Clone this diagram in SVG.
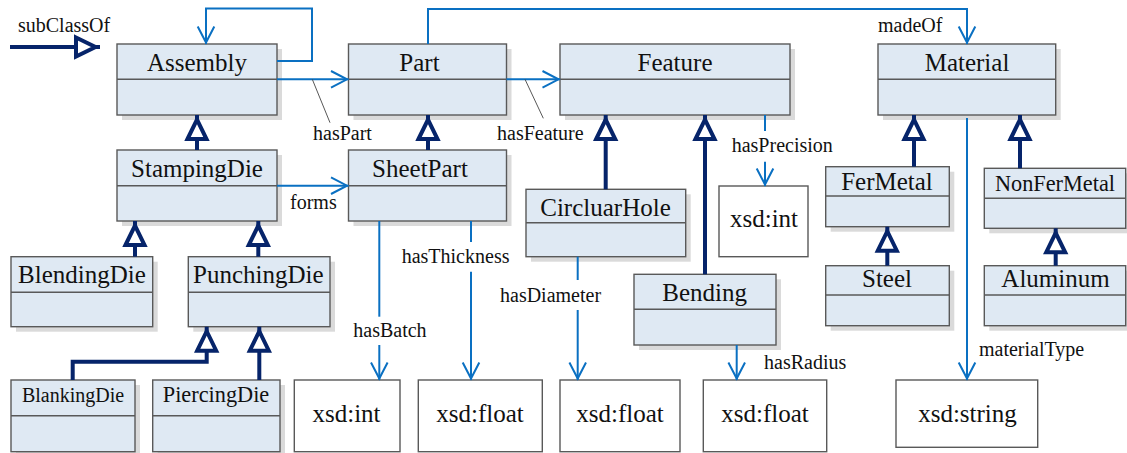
<svg xmlns="http://www.w3.org/2000/svg" width="1127" height="453" viewBox="0 0 1127 453">
  <defs>
    <style>
      .shadow { fill: #dadada; stroke: none; }
      .cls { fill: #dfe9f3; stroke: #595959; stroke-width: 1.4; }
      .div { stroke: #595959; stroke-width: 1.4; }
      .dt { fill: #ffffff; stroke: #595959; stroke-width: 1.4; }
      .name { font-family: "Liberation Serif", "Times New Roman", serif; font-size: 25px; fill: #111; text-anchor: middle; }
      .lbl { font-family: "Liberation Serif", "Times New Roman", serif; font-size: 20px; fill: #111; }
      .assoc { fill: none; stroke: #0a70c2; stroke-width: 2; }
      .gen { fill: none; stroke: #06246a; stroke-width: 4; }
      .leader { fill: none; stroke: #444; stroke-width: 0.9; }
    </style>
    <!-- hollow triangle for subclass links -->
    <marker id="tri" viewBox="-3 -13 30 26" markerWidth="30" markerHeight="26" refX="24" refY="0" orient="auto" markerUnits="userSpaceOnUse">
      <path d="M0,-9.5 L19.5,0 L0,9.5 Z" fill="#ffffff" stroke="#06246a" stroke-width="4" stroke-linejoin="miter"/>
    </marker>
    <!-- open arrowhead for properties -->
    <marker id="open" viewBox="-19 -11 22 22" markerWidth="22" markerHeight="22" refX="1.5" refY="0" orient="auto" markerUnits="userSpaceOnUse">
      <path d="M-16,-8.3 L0,0 L-16,8.3" fill="none" stroke="#0a70c2" stroke-width="2"/>
    </marker>
  </defs>

  <!-- legend -->
  <g id="legend">
    <text class="lbl" x="18" y="32">subClassOf</text>
    <path class="gen" d="M10,47 L100,47" marker-end="url(#tri)"/>
  </g>

  <!-- class nodes -->
  <g id="Assembly">
    <rect class="shadow" x="122" y="49" width="160" height="71"/>
    <rect class="cls" x="117" y="44" width="160" height="71"/>
    <line class="div" x1="117" y1="79.3" x2="277" y2="79.3"/>
    <text class="name" x="197" y="71">Assembly</text>
  </g>
  <g id="Part">
    <rect class="shadow" x="353.5" y="49" width="158" height="71"/>
    <rect class="cls" x="348.5" y="44" width="158" height="71"/>
    <line class="div" x1="348.5" y1="79.3" x2="506.5" y2="79.3"/>
    <text class="name" x="419.5" y="71">Part</text>
  </g>
  <g id="Feature">
    <rect class="shadow" x="565" y="49" width="230" height="71"/>
    <rect class="cls" x="560" y="44" width="230" height="71"/>
    <line class="div" x1="560" y1="79.3" x2="790" y2="79.3"/>
    <text class="name" x="675" y="71">Feature</text>
  </g>
  <g id="Material">
    <rect class="shadow" x="883" y="49" width="177.7" height="71"/>
    <rect class="cls" x="878" y="44" width="177.7" height="71"/>
    <line class="div" x1="878" y1="79.3" x2="1055.7" y2="79.3"/>
    <text class="name" x="967" y="71">Material</text>
  </g>
  <g id="StampingDie">
    <rect class="shadow" x="122" y="155" width="160" height="71"/>
    <rect class="cls" x="117" y="150" width="160" height="71"/>
    <line class="div" x1="117" y1="185.7" x2="277" y2="185.7"/>
    <text class="name" x="197" y="177">StampingDie</text>
  </g>
  <g id="SheetPart">
    <rect class="shadow" x="353.5" y="155" width="158" height="71"/>
    <rect class="cls" x="348.5" y="150" width="158" height="71"/>
    <line class="div" x1="348.5" y1="185.7" x2="506.5" y2="185.7"/>
    <text class="name" x="420" y="177">SheetPart</text>
  </g>
  <g id="BlendingDie">
    <rect class="shadow" x="16" y="261.7" width="141.7" height="70"/>
    <rect class="cls" x="11" y="256.7" width="141.7" height="70"/>
    <line class="div" x1="11" y1="292.3" x2="152.7" y2="292.3"/>
    <text class="name" x="82" y="283.3">BlendingDie</text>
  </g>
  <g id="PunchingDie">
    <rect class="shadow" x="193.3" y="261.7" width="141.7" height="70"/>
    <rect class="cls" x="188.3" y="256.7" width="141.7" height="70"/>
    <line class="div" x1="188.3" y1="292.3" x2="330" y2="292.3"/>
    <text class="name" x="258.3" y="283.3">PunchingDie</text>
  </g>
  <g id="BlankingDie">
    <rect class="shadow" x="16" y="385" width="124" height="71.7"/>
    <rect class="cls" x="11" y="380" width="124" height="71.7"/>
    <line class="div" x1="11" y1="415.7" x2="135" y2="415.7"/>
    <text class="name" x="73" y="401.7" style="font-size:20px">BlankingDie</text>
  </g>
  <g id="PiercingDie">
    <rect class="shadow" x="157.7" y="385" width="127.3" height="71.7"/>
    <rect class="cls" x="152.7" y="380" width="127.3" height="71.7"/>
    <line class="div" x1="152.7" y1="415.7" x2="280" y2="415.7"/>
    <text class="name" x="216" y="401.7" style="font-size:22.3px">PiercingDie</text>
  </g>
  <g id="CircluarHole">
    <rect class="shadow" x="531" y="194.3" width="159.7" height="67.4"/>
    <rect class="cls" x="526" y="189.3" width="159.7" height="67.4"/>
    <line class="div" x1="526" y1="222.7" x2="685.7" y2="222.7"/>
    <text class="name" x="605.5" y="216">CircluarHole</text>
  </g>
  <g id="Bending">
    <rect class="shadow" x="639" y="279.3" width="142" height="70.7"/>
    <rect class="cls" x="634" y="274.3" width="142" height="70.7"/>
    <line class="div" x1="634" y1="309.3" x2="776" y2="309.3"/>
    <text class="name" x="704.7" y="301">Bending</text>
  </g>
  <g id="FerMetal">
    <rect class="shadow" x="830.7" y="171.7" width="123.6" height="60"/>
    <rect class="cls" x="825.7" y="166.7" width="123.6" height="60"/>
    <line class="div" x1="825.7" y1="196" x2="949.3" y2="196"/>
    <text class="name" x="887" y="190">FerMetal</text>
  </g>
  <g id="NonFerMetal">
    <rect class="shadow" x="989.3" y="173.3" width="141.4" height="60"/>
    <rect class="cls" x="984.3" y="168.3" width="141.4" height="60"/>
    <line class="div" x1="984.3" y1="198.3" x2="1125.7" y2="198.3"/>
    <text class="name" x="1055" y="190.7" style="font-size:22.3px">NonFerMetal</text>
  </g>
  <g id="Steel">
    <rect class="shadow" x="830.7" y="270.7" width="123.6" height="60"/>
    <rect class="cls" x="825.7" y="265.7" width="123.6" height="60"/>
    <line class="div" x1="825.7" y1="295" x2="949.3" y2="295"/>
    <text class="name" x="887" y="286.7">Steel</text>
  </g>
  <g id="Aluminum">
    <rect class="shadow" x="989.3" y="270.7" width="141.4" height="60"/>
    <rect class="cls" x="984.3" y="265.7" width="141.4" height="60"/>
    <line class="div" x1="984.3" y1="295" x2="1125.7" y2="295"/>
    <text class="name" x="1055.5" y="286.7">Aluminum</text>
  </g>

  <!-- datatype nodes -->
  <g id="dt-precision">
    <rect class="dt" x="719" y="186" width="89" height="70.7"/>
    <text class="name" x="764" y="227">xsd:int</text>
  </g>
  <g id="dt-batch">
    <rect class="dt" x="294.3" y="380" width="105.7" height="71.7"/>
    <text class="name" x="346.5" y="421.7">xsd:int</text>
  </g>
  <g id="dt-thickness">
    <rect class="dt" x="418.3" y="380" width="124" height="71.7"/>
    <text class="name" x="480" y="421.7">xsd:float</text>
  </g>
  <g id="dt-diameter">
    <rect class="dt" x="560" y="380" width="120" height="71.7"/>
    <text class="name" x="620" y="421.7">xsd:float</text>
  </g>
  <g id="dt-radius">
    <rect class="dt" x="703.3" y="380" width="123.4" height="71.7"/>
    <text class="name" x="765" y="421.7">xsd:float</text>
  </g>
  <g id="dt-string">
    <rect class="dt" x="896" y="380" width="141.7" height="67.3"/>
    <text class="name" x="967.5" y="421.7">xsd:string</text>
  </g>

  <!-- connectors -->
  <g id="connectors">
    <!-- subclass links -->
    <path class="gen" d="M197,150 L197,115" marker-end="url(#tri)"/>
    <path class="gen" d="M428,150 L428,115" marker-end="url(#tri)"/>
    <path class="gen" d="M135,256.7 L135,221" marker-end="url(#tri)"/>
    <path class="gen" d="M258.3,256.7 L258.3,221" marker-end="url(#tri)"/>
    <path class="gen" d="M72.7,380 L72.7,361.7 L206.7,361.7 L206.7,326.7" marker-end="url(#tri)"/>
    <path class="gen" d="M259.3,380 L259.3,326.7" marker-end="url(#tri)"/>
    <path class="gen" d="M605.7,189.3 L605.7,115" marker-end="url(#tri)"/>
    <path class="gen" d="M705,274.3 L705,115" marker-end="url(#tri)"/>
    <path class="gen" d="M914,166.7 L914,115" marker-end="url(#tri)"/>
    <path class="gen" d="M1020,168.3 L1020,115" marker-end="url(#tri)"/>
    <path class="gen" d="M887.3,265.7 L887.3,226.7" marker-end="url(#tri)"/>
    <path class="gen" d="M1055.7,265.7 L1055.7,228.3" marker-end="url(#tri)"/>

    <!-- object properties -->
    <path class="assoc" d="M277,61 L312,61 L312,8.5 L206,8.5 L206,44" marker-end="url(#open)"/>
    <path class="assoc" d="M277,79.3 L348.5,79.3" marker-end="url(#open)"/>
    <path class="assoc" d="M506.5,79.3 L560,79.3" marker-end="url(#open)"/>
    <path class="assoc" d="M428,44 L428,9 L967,9 L967,44" marker-end="url(#open)"/>
    <path class="assoc" d="M277,185.7 L348.5,185.7" marker-end="url(#open)"/>

    <!-- datatype properties -->
    <path class="assoc" d="M765,115 L765,131"/>
    <path class="assoc" d="M765,161.7 L765,186" marker-end="url(#open)"/>
    <path class="assoc" d="M379.3,221 L379.3,316.7"/>
    <path class="assoc" d="M379.3,345 L379.3,380" marker-end="url(#open)"/>
    <path class="assoc" d="M471,221 L471,242"/>
    <path class="assoc" d="M471,271.7 L471,380" marker-end="url(#open)"/>
    <path class="assoc" d="M577.7,256.7 L577.7,280"/>
    <path class="assoc" d="M577.7,310 L577.7,380" marker-end="url(#open)"/>
    <path class="assoc" d="M736.7,345 L736.7,380" marker-end="url(#open)"/>
    <path class="assoc" d="M967,118 L967,380" marker-end="url(#open)"/>

    <!-- label leaders -->
    <path class="leader" d="M312.3,79.3 L330,122.7"/>
    <path class="leader" d="M525,79.3 L543.3,118.3"/>

    <!-- property labels -->
    <text class="lbl" x="313" y="140">hasPart</text>
    <text class="lbl" x="497" y="139.5">hasFeature</text>
    <text class="lbl" x="878" y="32">madeOf</text>
    <text class="lbl" x="731.7" y="152">hasPrecision</text>
    <text class="lbl" x="290" y="209">forms</text>
    <text class="lbl" x="401.7" y="263">hasThickness</text>
    <text class="lbl" x="500" y="302">hasDiameter</text>
    <text class="lbl" x="353.3" y="337">hasBatch</text>
    <text class="lbl" x="764" y="369">hasRadius</text>
    <text class="lbl" x="979" y="356">materialType</text>
  </g>
</svg>
